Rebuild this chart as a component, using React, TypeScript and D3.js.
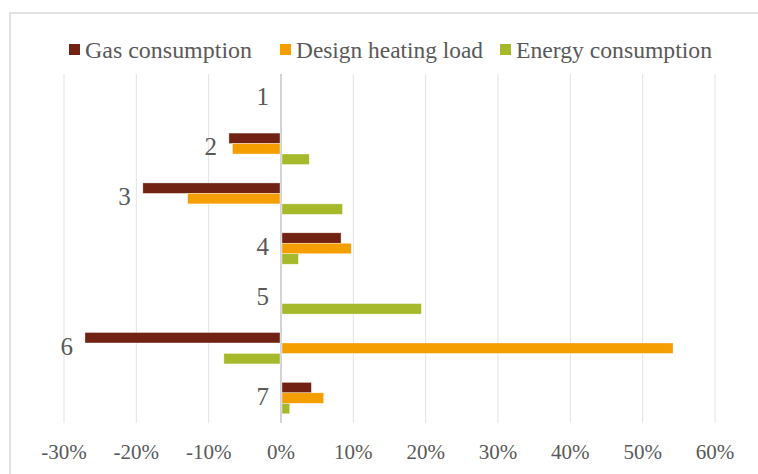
import React from "react";
import * as d3 from "d3";

const categories = ["1", "2", "3", "4", "5", "6", "7"];
const seriesNames = ["Gas consumption", "Design heating load", "Energy consumption"];
const gasConsumption = [0, -7.2, -19.1, 8.3, 0, -27.1, 4.2];
const designHeatingLoad = [0, -6.7, -12.9, 9.7, 0, 54.2, 5.9];
const energyConsumption = [0, 3.9, 8.5, 2.4, 19.4, -7.9, 1.2];
const xTicks = [-30, -20, -10, 0, 10, 20, 30, 40, 50, 60];
const colors = ["#722213", "#f59e00", "#a5b92a"];

const W = 758;
const H = 474;
const FONT = "Liberation Serif, serif";

export default function App() {
  const series = [gasConsumption, designHeatingLoad, energyConsumption];
  const x = d3.scaleLinear().domain([-30, 60]).range([64, 715]);
  const y = d3.scaleBand<string>().domain(categories).range([74, 423]).paddingInner(0.37).paddingOuter(0.185);
  const inner = d3.scaleBand<number>().domain([0, 1, 2]).range([0, y.bandwidth()]).padding(0);
  const legendX = [69, 280, 500];
  const legendW = [167, 187, 196];

  return (
    <svg width={W} height={H} style={{ position: "absolute", left: 0, top: 0, background: "#fff" }}>
      <rect x={10} y={13} width={W + 20} height={H + 20} fill="#fff" stroke="#d9d9d9" strokeWidth={1.5} />
      {xTicks.map((t) => (
        <line key={"g" + t} x1={x(t)} x2={x(t)} y1={74} y2={423} stroke={t === 0 ? "#c8c8c8" : "#e3e3e3"} strokeWidth={t === 0 ? 1.6 : 1} />
      ))}
      {categories.map((c, i) =>
        series.map((s, k) => {
          const v = s[i];
          if (v === 0) return null;
          const x0 = x(Math.min(0, v));
          const x1 = x(Math.max(0, v));
          return (
            <rect
              key={c + "-" + k}
              x={x0 + (v > 0 ? 1 : 0)}
              y={(y(c) as number) + (inner(k) as number)}
              width={Math.max(0, x1 - x0 - 1)}
              height={inner.bandwidth()}
              fill={colors[k]}
              stroke="#fff"
              strokeOpacity={0.6}
              strokeWidth={0.6}
            />
          );
        })
      )}
      {categories.map((c, i) => {
        const minV = Math.min(0, ...series.map((s) => s[i]));
        return (
          <text
            key={"cl" + c}
            x={x(minV) - 12}
            y={(y(c) as number) + y.bandwidth() / 2 - 2}
            textAnchor="end"
            dominantBaseline="central"
            fontFamily={FONT}
            fontSize={25}
            fill="#595959"
          >
            {c}
          </text>
        );
      })}
      {xTicks.map((t) => (
        <text
          key={"t" + t}
          x={x(t)}
          y={452}
          textAnchor="middle"
          dominantBaseline="central"
          fontFamily={FONT}
          fontSize={21}
          fill="#595959"
        >
          {t + "%"}
        </text>
      ))}
      {seriesNames.map((n, k) => (
        <g key={"l" + k} transform={`translate(${legendX[k]},0)`}>
          <rect x={0} y={44} width={11} height={11} fill={colors[k]} />
          <text
            x={16}
            y={50}
            dominantBaseline="central"
            fontFamily={FONT}
            fontSize={23}
            fill="#595959"
            textLength={legendW[k]}
            lengthAdjust="spacingAndGlyphs"
          >
            {n}
          </text>
        </g>
      ))}
    </svg>
  );
}
